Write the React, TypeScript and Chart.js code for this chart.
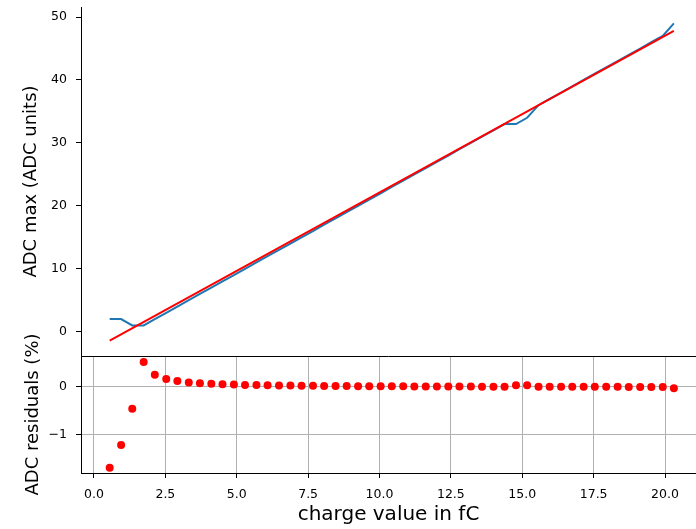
import React, { useEffect, useRef } from 'react';
import { Chart, registerables } from 'chart.js';

Chart.register(...registerables);

// ---- data ----
const charge = [
  0.55, 0.95, 1.34, 1.74, 2.13, 2.53, 2.92, 3.32, 3.71, 4.11,
  4.50, 4.90, 5.29, 5.69, 6.08, 6.48, 6.88, 7.27, 7.67, 8.06,
  8.46, 8.85, 9.25, 9.64, 10.04, 10.43, 10.83, 11.22, 11.62, 12.01,
  12.41, 12.80, 13.20, 13.59, 13.99, 14.38, 14.78, 15.17, 15.57, 15.96,
  16.36, 16.75, 17.15, 17.54, 17.94, 18.34, 18.73, 19.13, 19.52, 19.92,
  20.31,
];
const adcMax = [
  2, 2, 1, 1, 2, 3, 4, 5, 6, 7,
  8, 9, 10, 11, 12, 13, 14, 15, 16, 17,
  18, 19, 20, 21, 22, 23, 24, 25, 26, 27,
  28, 29, 30, 31, 32, 33, 33, 34, 36, 37,
  38, 39, 40, 41, 42, 43, 44, 45, 46, 47,
  49,
];
const fitCharge = [0.55, 20.31];
const fitAdc = [-1.43, 47.79];
const residuals = [
  -1.70, -1.22, -0.46, 0.52, 0.25, 0.16, 0.12, 0.09, 0.075, 0.062,
  0.053, 0.045, 0.039, 0.034, 0.030, 0.027, 0.024, 0.021, 0.019, 0.017,
  0.015, 0.013, 0.012, 0.011, 0.010, 0.009, 0.008, 0.007, 0.006, 0.005,
  0.004, 0.004, 0.003, 0.002, 0.002, 0.001, 0.031, 0.030, 0.000, -0.001,
  -0.001, -0.001, -0.002, -0.002, -0.002, -0.002, -0.003, -0.003, -0.003, -0.004,
  -0.030,
];
const xTicks = [0, 2.5, 5, 7.5, 10, 12.5, 15, 17.5, 20];
const topYTicks = [0, 10, 20, 30, 40, 50];
const resYTicks = [-1, 0];

const FONT = "'DejaVu Sans', sans-serif";
const X_MIN = -0.455;
const X_MAX = 21.085;

const minusFmt = (v: number) => (v < 0 ? '\u2212' + Math.abs(v) : String(v));

const topBorder = {
  id: 'topBorder',
  beforeDatasetsDraw(chart: any) {
    const { ctx, chartArea } = chart;
    ctx.save();
    ctx.strokeStyle = '#000';
    ctx.lineWidth = 1;
    ctx.beginPath();
    ctx.moveTo(chartArea.left, Math.round(chartArea.top) + 0.5);
    ctx.lineTo(chartArea.right, Math.round(chartArea.top) + 0.5);
    ctx.stroke();
    ctx.restore();
  },
};

const yAfterFit = (s: any) => {
  s.width = 81;
  s.paddingTop = 0;
  s.paddingBottom = 0;
};

// bottom canvas starts at this page offset
const BOT_TOP = 300;

export default function App() {
  const topRef = useRef<HTMLCanvasElement | null>(null);
  const botRef = useRef<HTMLCanvasElement | null>(null);

  useEffect(() => {
    const top = new Chart(topRef.current as HTMLCanvasElement, {
      type: 'line',
      data: {
        datasets: [
          {
            label: 'fit',
            data: fitCharge.map((x, i) => ({ x, y: fitAdc[i] })),
            borderColor: '#ff0000',
            borderWidth: 2,
            pointRadius: 0,
            fill: false,
            tension: 0,
          },
          {
            label: 'ADC max',
            data: charge.map((x, i) => ({ x, y: adcMax[i] })),
            borderColor: '#1f77b4',
            borderWidth: 2,
            pointRadius: 0,
            fill: false,
            tension: 0,
          },
        ],
      },
      options: {
        animation: false,
        responsive: false,
        plugins: { legend: { display: false }, tooltip: { enabled: false } },
        layout: { autoPadding: false, padding: { left: 0, right: 0, top: 7, bottom: 8 } },
        scales: {
          x: { type: 'linear', display: false, min: X_MIN, max: X_MAX },
          y: {
            type: 'linear',
            min: -3.86,
            max: 51.6,
            afterBuildTicks: (s: any) => {
              s.ticks = topYTicks.map((v) => ({ value: v }));
            },
            afterFit: yAfterFit,
            grid: { drawOnChartArea: false, drawTicks: true, tickLength: 5, tickColor: '#000', tickWidth: 1 },
            border: { display: true, color: '#000', width: 1 },
            ticks: { color: '#000', font: { family: FONT, size: 12.5 }, padding: 9, callback: (v: any) => minusFmt(v) },
            title: {
              display: true,
              text: 'ADC max (ADC units)',
              color: '#000',
              font: { family: FONT, size: 18 },
              padding: { top: 21, bottom: 0 },
            },
          },
        },
      },
    } as any);

    const bot = new Chart(botRef.current as HTMLCanvasElement, {
      type: 'scatter',
      data: {
        datasets: [
          {
            label: 'residuals',
            data: charge.map((x, i) => ({ x, y: residuals[i] })),
            backgroundColor: '#ff0000',
            borderColor: '#ff0000',
            borderWidth: 0,
            pointRadius: 4,
          },
        ],
      },
      options: {
        animation: false,
        responsive: false,
        plugins: { legend: { display: false }, tooltip: { enabled: false } },
        layout: { autoPadding: false, padding: { left: 0, right: 0, top: 356 - BOT_TOP, bottom: 0 } },
        scales: {
          x: {
            type: 'linear',
            min: X_MIN,
            max: X_MAX,
            afterBuildTicks: (s: any) => {
              s.ticks = xTicks.map((v) => ({ value: v }));
            },
            afterFit: (s: any) => {
              s.height = 56;
              s.paddingLeft = 0;
              s.paddingRight = 0;
            },
            grid: { color: '#b0b0b0', lineWidth: 1, drawTicks: true, tickLength: 5, tickColor: '#000', tickWidth: 1 },
            border: { display: true, color: '#000', width: 1 },
            ticks: { color: '#000', font: { family: FONT, size: 12.5 }, padding: 9, maxRotation: 0, callback: (v: any) => Number(v).toFixed(1) },
            title: {
              display: true,
              text: 'charge value in fC',
              color: '#000',
              font: { family: FONT, size: 20 },
              padding: { top: 0, bottom: 2 },
            },
          },
          y: {
            type: 'linear',
            min: -1.81,
            max: 0.645,
            afterBuildTicks: (s: any) => {
              s.ticks = resYTicks.map((v) => ({ value: v }));
            },
            afterFit: yAfterFit,
            grid: { color: '#b0b0b0', lineWidth: 1, drawTicks: true, tickLength: 5, tickColor: '#000', tickWidth: 1 },
            border: { display: true, color: '#000', width: 1 },
            ticks: { color: '#000', font: { family: FONT, size: 12.5 }, padding: 9, callback: (v: any) => minusFmt(v) },
            title: {
              display: true,
              text: 'ADC residuals (%)',
              color: '#000',
              font: { family: FONT, size: 18 },
              padding: { top: 23, bottom: 0 },
            },
          },
        },
      },
      plugins: [topBorder],
    } as any);

    return () => {
      top.destroy();
      bot.destroy();
    };
  }, []);

  return (
    <div style={{ position: 'absolute', left: 0, top: 0, width: 696, height: 529, background: '#fff', overflow: 'hidden' }}>
      <canvas
        ref={topRef}
        width={696}
        height={364}
        style={{ position: 'absolute', left: 0, top: 0, width: 696, height: 364 }}
      />
      <canvas
        ref={botRef}
        width={696}
        height={529 - BOT_TOP}
        style={{ position: 'absolute', left: 0, top: BOT_TOP, width: 696, height: 529 - BOT_TOP }}
      />
    </div>
  );
}
